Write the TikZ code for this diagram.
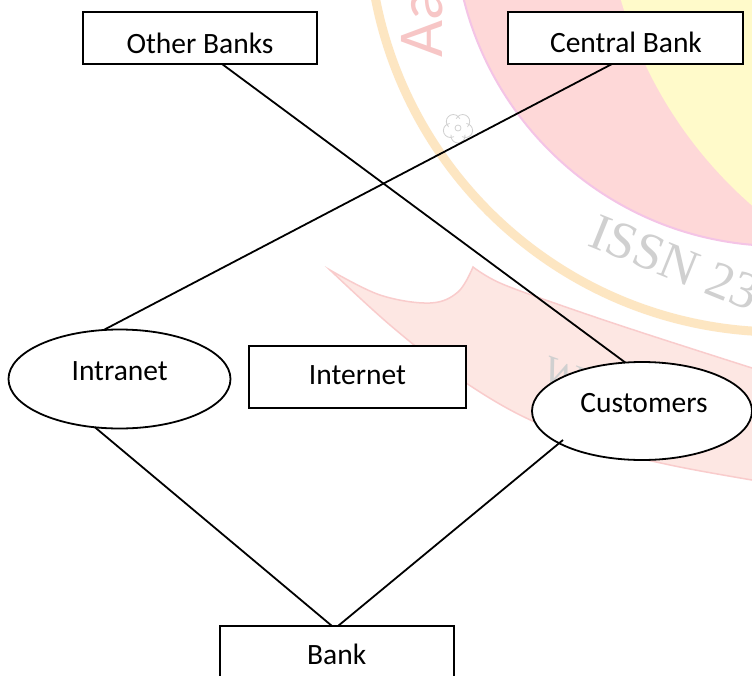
\documentclass[tikz,border=0pt]{standalone}
\usepackage{fontspec}
\setmainfont{Carlito}
\newfontfamily\wmserif{Liberation Serif}
\usetikzlibrary{shapes.geometric,calc}

% watermark tints
\definecolor{wmyellow}{RGB}{255,250,202}
\definecolor{wmpink}{RGB}{254,216,216}
\definecolor{wmring}{RGB}{244,196,230}
\definecolor{wmorange}{RGB}{253,230,194}
\definecolor{wmswoosh}{RGB}{253,231,227}
\definecolor{wmswooshedge}{RGB}{249,204,204}
\definecolor{wmgray}{RGB}{208,208,208}
\definecolor{wmpinktext}{RGB}{247,198,198}

\begin{document}
\begin{tikzpicture}[x=1pt,y=-1pt,
  conn/.style={line width=1.8pt},
  boxnode/.style={draw, line width=1.8pt, fill=white, rectangle,
    inner sep=0pt, outer sep=0pt},
  ellnode/.style={draw, line width=1.8pt, fill=white, ellipse,
    inner sep=0pt, outer sep=0pt},
  lbl/.style={anchor=base, inner sep=0pt,
    font=\fontsize{29.5}{35}\selectfont}]

\useasboundingbox (0,0) rectangle (752,675);
\clip (0,0) rectangle (752,675);
\fill[white] (0,0) rectangle (752,675);

% ---- background watermark ----
\fill[wmpink] (780,-80) circle[radius=326];
\draw[wmring, line width=2pt] (780,-80) circle[radius=326];
\fill[wmyellow] (1036,-120) circle[radius=432];
\draw[wmorange, line width=9pt] (780,-80) circle[radius=412];

\path[fill=wmswoosh, draw=wmswooshedge, line width=1.5pt]
  plot[smooth, tension=0.6] coordinates {(330,270) (380,295) (430,303) (458,292) (473,267)}
  -- plot[smooth, tension=0.6] coordinates {(473,267) (500,283) (560,305) (640,332) (752,368)}
  -- (770,368) -- (770,482)
  -- plot[smooth, tension=0.6] coordinates {(752,480) (670,465) (600,447) (520,415) (450,372) (390,325) (330,270)}
  -- cycle;

\node[rotate=90, anchor=base west, inner sep=0pt, text=wmpinktext,
  font=\fontsize{64}{70}\selectfont] (wmA) at (442,58) {Aa};
\node[rotate=-22, anchor=base west, inner sep=0pt, text=wmgray,
  font=\wmserif\fontsize{52}{60}\selectfont] (wmissn) at (586,245) {ISSN 23};
\node[rotate=-20, anchor=base west, inner sep=0pt, text=wmgray,
  font=\wmserif\fontsize{40}{48}\selectfont] (wmw) at (540,380) {W};

% small flower ornament
\foreach \a in {18,90,162,234,306}
  \fill[white] ($(458,128)+(\a:8)$) circle[radius=7];
\foreach \a in {18,90,162,234,306}
  \draw[wmgray, line width=0.8pt] ($(458,128)+(\a:8)$) circle[radius=7];
\fill[white] (458,128) circle[radius=9.5];
\draw[wmgray, line width=0.8pt] (458,128) circle[radius=3];

% ---- diagram nodes ----
\node[boxnode, minimum width=234pt, minimum height=52pt] (ob) at (200,38) {};
\node[boxnode, minimum width=235pt, minimum height=52pt] (cb) at (625.5,38) {};
\node[boxnode, minimum width=217pt, minimum height=62pt] (inet) at (357.5,377) {};
\node[boxnode, minimum width=234pt, minimum height=60pt] (bank) at (337,656) {};
\node[ellnode, minimum width=222pt, minimum height=99pt] (intra) at (119.5,379) {};
\node[ellnode, minimum width=220pt, minimum height=98pt] (cust) at (642,411) {};

\node[lbl] (obt) at (200,53) {Other Banks};
\node[lbl] (cbt) at (626,52) {Central Bank};
\node[lbl] (inett) at (357.5,384.5) {Internet};
\node[lbl] (intrat) at (119.7,380) {Intranet};
\node[lbl] (custt) at (644,412) {Customers};
\node[lbl] (bankt) at (336.7,664) {Bank};

% ---- connectors ----
\draw[conn] ($(ob.south)+(22,0)$) -- (cust.109.5);
\draw[conn] ($(cb.south)+(-13.5,0)$) -- (intra.108.3);
\draw[conn] (intra.243) -- ($(bank.north)+(-5,0)$);
\draw[conn] ($(cust.center)+(-79,29)$) -- ($(bank.north)+(1,0)$);
\end{tikzpicture}
\end{document}
